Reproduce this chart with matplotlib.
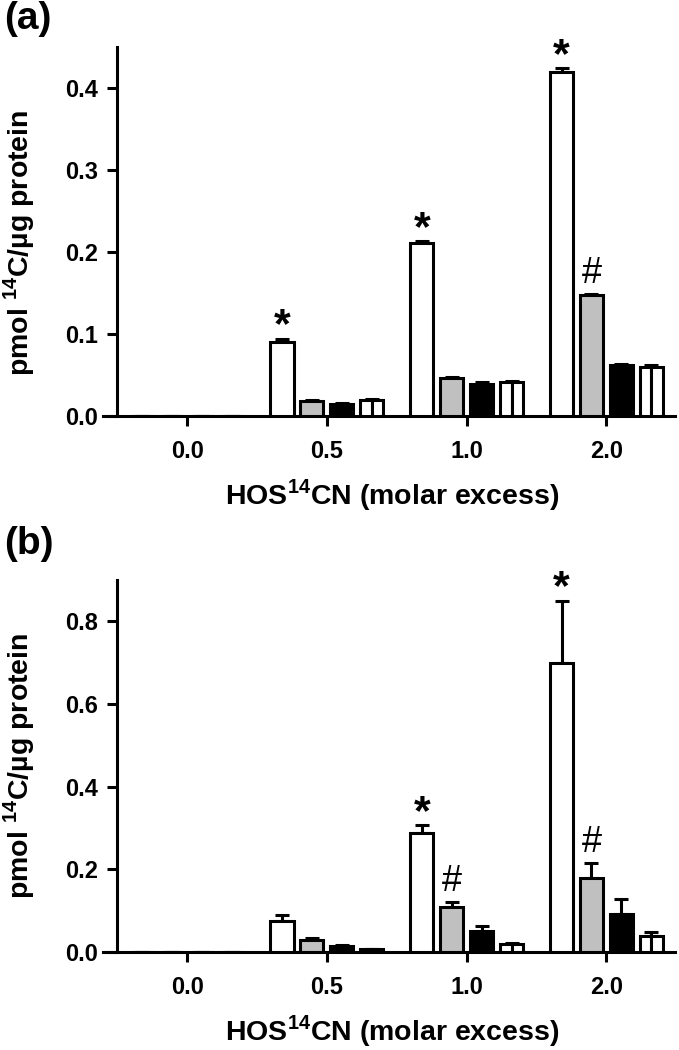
import numpy as np
import matplotlib
matplotlib.use("Agg")
import matplotlib.pyplot as plt

plt.rcParams['font.family'] = ['Liberation Sans', 'DejaVu Sans']
plt.rcParams['font.weight'] = 'bold'
plt.rcParams['mathtext.fontset'] = 'custom'
plt.rcParams['mathtext.rm'] = 'Liberation Sans:bold'
plt.rcParams['mathtext.bf'] = 'Liberation Sans:bold'

# data
doses = ['0.0', '0.5', '1.0', '2.0']

a_white = [0.0, 0.090, 0.211, 0.420]
a_white_err = [0.0, 0.004, 0.002, 0.004]
a_gray = [0.0, 0.018, 0.046, 0.147]
a_gray_err = [0.0, 0.001, 0.002, 0.002]
a_black = [0.0, 0.015, 0.039, 0.062]
a_black_err = [0.0, 0.001, 0.002, 0.001]
a_strip = [0.0, 0.019, 0.041, 0.060]
a_strip_err = [0.0, 0.002, 0.002, 0.002]

b_white = [0.0, 0.075, 0.287, 0.700]
b_white_err = [0.0, 0.015, 0.020, 0.150]
b_gray = [0.0, 0.028, 0.110, 0.180]
b_gray_err = [0.0, 0.005, 0.010, 0.035]
b_black = [0.0, 0.015, 0.050, 0.092]
b_black_err = [0.0, 0.003, 0.012, 0.036]
b_strip = [0.0, 0.007, 0.020, 0.040]
b_strip_err = [0.0, 0.001, 0.002, 0.008]

# significance marks: (series index, group index, symbol)
a_marks = [(0, 1, '*'), (0, 2, '*'), (0, 3, '*'), (1, 3, '#')]
b_marks = [(0, 2, '*'), (0, 3, '*'), (1, 2, '#'), (1, 3, '#')]

fig = plt.figure(figsize=(6.79, 10.5), dpi=100)

W = 0.165
STEP = 0.214
LW = 2.2


def panel(ax, series, errs, marks, ymax, yticks, label, ylab_y, label_top):
    x = np.arange(len(doses))
    offs = [-1.5 * STEP, -0.5 * STEP, 0.5 * STEP, 1.5 * STEP]
    fills = ['white', '#c0c0c0', 'black', 'white']
    for i, (vals, err) in enumerate(zip(series, errs)):
        xc = x + offs[i]
        if i == 3:
            # white bar split by a black centre line
            for d in (-W / 4, W / 4):
                ax.bar(xc + d, vals, W / 2, color='white', edgecolor='black',
                       linewidth=LW, zorder=3)
        else:
            ax.bar(xc, vals, W, color=fills[i], edgecolor='black',
                   linewidth=LW, zorder=3)
        ax.errorbar(xc, vals, yerr=[np.zeros(len(vals)), err], fmt='none',
                    ecolor='black', elinewidth=LW, capsize=5, capthick=LW,
                    zorder=2)
    for si, gi, sym in marks:
        top = series[si][gi] + errs[si][gi]
        if sym == '*':
            ax.annotate(sym, (x[gi] + offs[si], top), xytext=(0, 1),
                        textcoords='offset points', ha='center',
                        va='baseline', fontsize=31, fontweight='bold')
        else:
            ax.annotate(sym, (x[gi] + offs[si], top), xytext=(0, 8),
                        textcoords='offset points', ha='center',
                        va='baseline', fontsize=26, fontweight='normal')
    ax.set_xlim(-0.6, 3.49)
    ax.set_ylim(0, ymax)
    ax.set_xticks(x)
    ax.set_xticklabels(doses)
    ax.set_yticks(yticks)
    ax.set_yticklabels(['{:.1f}'.format(t) for t in yticks])
    ax.spines['top'].set_visible(False)
    ax.spines['right'].set_visible(False)
    ax.spines['left'].set_position(('data', -0.5))
    ax.spines['left'].set_linewidth(LW)
    ax.spines['bottom'].set_linewidth(LW)
    ax.tick_params(axis='both', direction='out', length=7, width=LW,
                   labelsize=17)
    ax.tick_params(axis='x', pad=10)
    ax.tick_params(axis='y', pad=7)
    ax.set_ylabel(r'pmol $^{14}$C/µg protein', fontsize=20.5,
                  fontweight='bold')
    ax.yaxis.set_label_coords(-0.115, ylab_y)
    ax.set_xlabel(r'HOS$^{14}$CN (molar excess)', fontsize=20.5,
                  fontweight='bold')
    ax.xaxis.set_label_coords(0.505, -0.165)
    fig.text(0.006, label_top, label, fontsize=28, fontweight='bold',
             va='top')


ax1 = fig.add_axes([0.152, 0.6038, 0.842, 0.3514])
panel(ax1, [a_white, a_gray, a_black, a_strip],
      [a_white_err, a_gray_err, a_black_err, a_strip_err],
      a_marks, 0.45, [0.0, 0.1, 0.2, 0.3, 0.4], '(a)', 0.47, 0.999)

ax2 = fig.add_axes([0.152, 0.0933, 0.842, 0.3543])
panel(ax2, [b_white, b_gray, b_black, b_strip],
      [b_white_err, b_gray_err, b_black_err, b_strip_err],
      b_marks, 0.9, [0.0, 0.2, 0.4, 0.6, 0.8], '(b)', 0.5, 0.499)

fig.savefig('out.png', dpi=100)
